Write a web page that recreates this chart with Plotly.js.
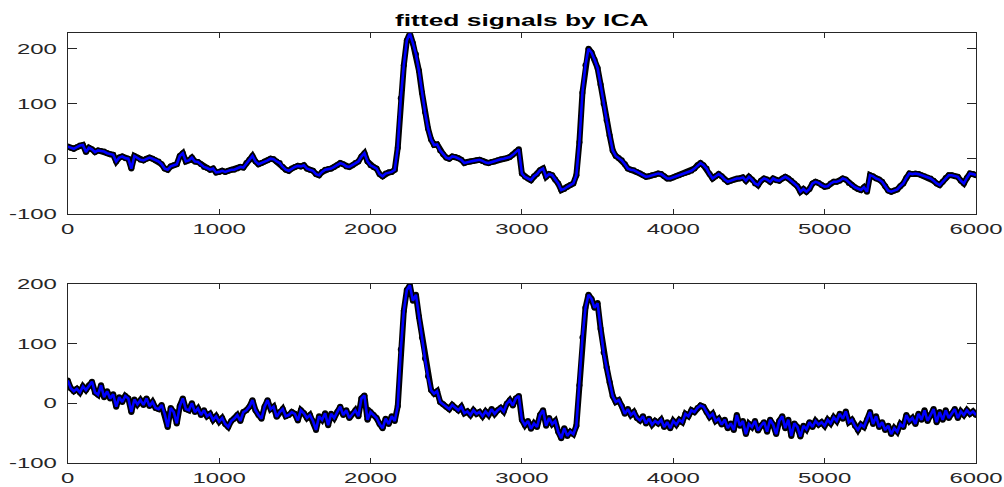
<!DOCTYPE html>
<html>
<head>
<meta charset="utf-8">
<script src="https://cdn.plot.ly/plotly-3.0.1.min.js"></script>
<style>html,body{margin:0;padding:0;background:#fff;}#chart{width:1004px;height:487px;}</style>
</head>
<body>
<div id="chart"></div>
<script>
// sample spacing of the read-off values (samples)
const sampleStep = 20;

// top panel: fitted signal 1 (values at samples 0,20,40,...,6000)
const signal1 = [
 22,20,18,21,24,25,12,20,17,12, 15,14,13,10,8,7,-5,2,4,1,
 0,-18,5,2,-2,-3,0,2,0,-3, -5,-10,-18,-20,-14,-12,-10,5,10,-5,
 -3,2,-5,-6,-10,-15,-17,-20,-18,-25, -24,-22,-24,-22,-20,-20,-18,-15,-16,-8,
 -2,5,-5,-10,-8,-5,-3,0,-1,-5, -8,-15,-20,-22,-18,-15,-13,-14,-12,-18,
 -20,-22,-28,-30,-24,-20,-19,-18,-15,-12, -8,-10,-14,-15,-12,-8,-5,4,10,-5,
 -12,-15,-18,-28,-32,-27,-25,-24,-20,20, 110,170,215,228,210,190,160,120,85,55,
 35,25,26,15,8,2,0,4,3,1, -2,-8,-6,-5,-4,-3,-2,-4,-7,-8,
 -6,-5,-3,-1,0,1,3,7,12,17, -27,-33,-36,-39,-32,-28,-21,-18,-33,-28,
 -30,-38,-45,-57,-55,-51,-48,-45,-30,30, 120,170,200,193,180,165,135,100,70,42,
 15,5,1,-3,-10,-18,-20,-21,-24,-27, -30,-33,-32,-30,-29,-27,-28,-32,-36,-36,
 -34,-32,-30,-28,-26,-24,-22,-18,-12,-8, -12,-18,-28,-36,-32,-28,-32,-38,-42,-40,
 -38,-36,-36,-34,-40,-33,-38,-45,-48,-40, -36,-38,-42,-36,-39,-40,-36,-33,-36,-40,
 -45,-50,-60,-55,-60,-55,-45,-42,-44,-48, -51,-50,-45,-42,-42,-40,-36,-38,-44,-48,
 -52,-55,-57,-52,-60,-30,-32,-36,-38,-42, -50,-58,-60,-58,-56,-50,-45,-35,-27,-28,
 -27,-28,-30,-32,-34,-36,-40,-45,-48,-42, -35,-30,-30,-32,-33,-40,-45,-35,-27,-28,
 -30
];

// bottom panel: fitted signal 2 (values at samples 0,20,40,...,6000)
const signal2 = [
 38,25,20,24,18,28,22,30,36,18, 14,30,10,20,8,15,-6,10,2,12,
 8,-15,6,-2,5,-3,8,-5,2,-8, -10,-3,-18,-40,-8,-15,-34,-5,8,-10,
 -12,0,-15,-9,-20,-12,-22,-18,-28,-22, -31,-25,-35,-40,-30,-26,-20,-30,-15,-12,
 -6,5,-12,-20,-26,-6,5,-10,-6,-23, -15,-10,-22,-20,-15,-18,-29,-12,-17,-25,
 -20,-30,-45,-22,-28,-17,-37,-18,-25,-15, -6,-20,-12,-25,-18,-12,-22,8,13,-28,
 -15,-20,-25,-35,-42,-26,-35,-22,-30,-5, 90,155,190,198,172,182,145,110,75,45,
 22,16,20,2,-2,-6,-10,-3,-8,-12, -6,-17,-14,-20,-12,-18,-15,-22,-14,-20,
 -10,-18,-12,-8,-14,-1,5,-4,8,12, -28,-37,-30,-43,-34,-40,-20,-12,-38,-25,
 -35,-30,-48,-59,-42,-55,-48,-52,-38,30, 110,160,182,175,160,168,125,85,60,35,
 12,2,5,-5,-18,-10,-20,-15,-25,-29, -22,-34,-26,-36,-30,-34,-28,-40,-32,-42,
 -30,-36,-28,-32,-18,-22,-12,-15,-8,-4, -6,-15,-23,-18,-30,-26,-36,-28,-42,-34,
 -45,-20,-38,-30,-52,-35,-40,-30,-46,-38, -32,-48,-28,-36,-52,-30,-22,-42,-28,-55,
 -34,-40,-56,-38,-44,-32,-40,-30,-36,-32, -38,-28,-34,-24,-30,-18,-26,-14,-32,-28,
 -38,-45,-36,-40,-28,-15,-35,-22,-40,-32, -45,-38,-52,-42,-48,-35,-40,-20,-30,-25,
 -35,-18,-28,-12,-30,-20,-10,-32,-15,-28, -12,-25,-18,-10,-25,-14,-20,-12,-18,-14,
 -20
];

const xTicks = [0, 1000, 2000, 3000, 4000, 5000, 6000];
const yTicks = [-100, 0, 100, 200];
const titleText = 'fitted signals by ICA';

const xs1 = signal1.map((_, i) => i * sampleStep);
const xs2 = signal2.map((_, i) => i * sampleStep);

const outline = {color: '#000000', width: 6};
const mk = {color: '#000000', size: 6, symbol: 'circle'};
const ln = {color: '#0000ff', width: 2.6};

function layers(xs, ys, xa, ya) {
  return [
    {x: xs, y: ys, xaxis: xa, yaxis: ya, mode: 'lines+markers', line: outline, marker: mk, hoverinfo: 'skip'},
    {x: xs, y: ys, xaxis: xa, yaxis: ya, mode: 'lines', line: ln, hoverinfo: 'skip'}
  ];
}

const traces = layers(xs1, signal1, 'x', 'y').concat(layers(xs2, signal2, 'x2', 'y2'));

const tickFont = {family: 'Liberation Sans, Arial, sans-serif', size: 14.5, color: '#262626'};

function xa(anchor) {
  return {
    domain: [0.0675, 0.9721], range: [0, 6000], anchor: anchor,
    tickvals: xTicks, ticktext: xTicks.map(String),
    ticks: 'inside', ticklen: 5, tickwidth: 1, tickcolor: '#262626',
    showline: true, linecolor: '#262626', linewidth: 1, mirror: 'ticks',
    showgrid: false, zeroline: false, tickfont: tickFont, ticklabelstandoff: 2
  };
}
function ya(anchor, domain, range) {
  return {
    domain: domain, range: range, anchor: anchor,
    tickvals: yTicks, ticktext: yTicks.map(String),
    ticks: 'inside', ticklen: 9, tickwidth: 1, tickcolor: '#262626',
    showline: true, linecolor: '#262626', linewidth: 1, mirror: 'ticks',
    showgrid: false, zeroline: false, tickfont: tickFont, ticklabelstandoff: 7
  };
}

const layout = {
  width: 1004, height: 487,
  margin: {l: 0, r: 0, t: 0, b: 0},
  paper_bgcolor: '#ffffff', plot_bgcolor: '#ffffff',
  showlegend: false,
  title: {text: '<b>' + titleText + '</b>', x: 0.5197, xanchor: 'center', y: 0.958, yanchor: 'middle',
          font: {family: 'Liberation Sans, Arial, sans-serif', size: 16, color: '#000000'}},
  xaxis: xa('y'),
  yaxis: ya('x', [0.5612, 0.9316], [-100, 228]),
  xaxis2: xa('y2'),
  yaxis2: ya('x2', [0.0499, 0.4168], [-100, 200])
};

// the reference's lettering is horizontally widened; stretch text about its anchor point
const textStretch = 1.65;
function widenText(gd) {
  gd.querySelectorAll('g.xtick text, g.ytick text, g.x2tick text, g.y2tick text, text.gtitle').forEach(t => {
    const x = parseFloat(t.getAttribute('x')) || 0;
    const tr = t.getAttribute('transform') || '';
    t.setAttribute('transform', tr + ' translate(' + x + ',0) scale(' + textStretch + ',1) translate(' + (-x) + ',0)');
  });
}

Plotly.newPlot('chart', traces, layout, {staticPlot: true, displayModeBar: false})
  .then(gd => widenText(gd));
</script>
</body>
</html>
